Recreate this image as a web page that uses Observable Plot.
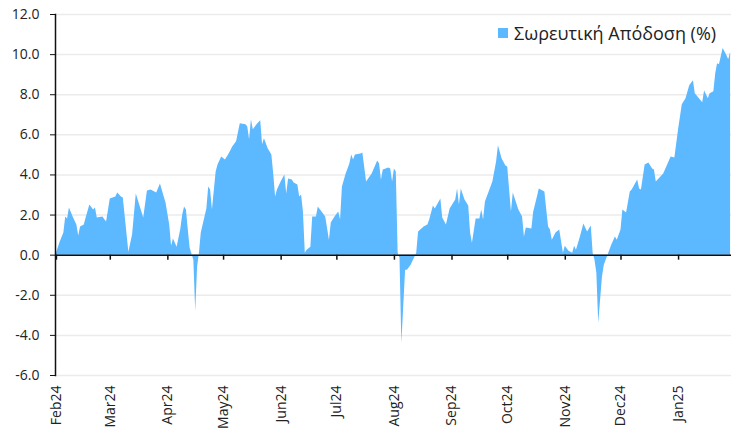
<!DOCTYPE html>
<html><head><meta charset="utf-8">
<script src="https://cdn.jsdelivr.net/npm/d3@7"></script>
<script src="https://cdn.jsdelivr.net/npm/@observablehq/plot@0.6"></script>
<style>
body{margin:0;background:#fff;font-family:"Open Sans",sans-serif;}
#wrap{position:relative;width:731px;height:434px;}
#legend{position:absolute;left:498px;top:21px;display:flex;align-items:center;gap:6px;font-size:18px;line-height:24px;color:#222;font-family:"Open Sans",sans-serif;}
#legend .sw{width:10px;height:10px;background:#5cb8ff;display:inline-block}
</style></head><body>
<div id="wrap"><div id="legend"><span class="sw"></span><span>Σωρευτική Απόδοση (%)</span></div></div>
<script>
const dates = [
"2024-02-01","2024-02-03","2024-02-05","2024-02-06","2024-02-07","2024-02-08","2024-02-10","2024-02-12","2024-02-13","2024-02-14",
"2024-02-16","2024-02-17","2024-02-19","2024-02-21","2024-02-22","2024-02-23","2024-02-26","2024-02-28","2024-03-01","2024-03-04",
"2024-03-05","2024-03-07","2024-03-08","2024-03-11","2024-03-13","2024-03-15","2024-03-19","2024-03-21","2024-03-23","2024-03-26",
"2024-03-28","2024-03-31","2024-04-02","2024-04-03","2024-04-04","2024-04-06","2024-04-08","2024-04-09","2024-04-10","2024-04-11",
"2024-04-12","2024-04-13","2024-04-14","2024-04-15","2024-04-16","2024-04-17","2024-04-18","2024-04-19","2024-04-22","2024-04-23",
"2024-04-24","2024-04-25","2024-04-27","2024-04-28","2024-04-30","2024-05-02","2024-05-04","2024-05-06","2024-05-08","2024-05-10",
"2024-05-13","2024-05-14","2024-05-15","2024-05-16","2024-05-17","2024-05-19","2024-05-21","2024-05-22","2024-05-23","2024-05-25",
"2024-05-27","2024-05-28","2024-05-29","2024-05-30","2024-06-01","2024-06-03","2024-06-04","2024-06-05","2024-06-07","2024-06-08",
"2024-06-10","2024-06-11","2024-06-12","2024-06-13","2024-06-14","2024-06-15","2024-06-17","2024-06-18","2024-06-20","2024-06-21",
"2024-06-23","2024-06-25","2024-06-27","2024-06-28","2024-06-30","2024-07-02","2024-07-03","2024-07-04","2024-07-06","2024-07-08",
"2024-07-09","2024-07-10","2024-07-11","2024-07-14","2024-07-15","2024-07-17","2024-07-20","2024-07-23","2024-07-24","2024-07-25",
"2024-07-26","2024-07-29","2024-07-30","2024-07-31","2024-08-01","2024-08-02","2024-08-03","2024-08-04","2024-08-05","2024-08-07",
"2024-08-08","2024-08-10","2024-08-12","2024-08-13","2024-08-14","2024-08-17","2024-08-19","2024-08-20","2024-08-22","2024-08-23",
"2024-08-26","2024-08-27","2024-08-29","2024-08-31","2024-09-03","2024-09-04","2024-09-05","2024-09-06","2024-09-08","2024-09-10",
"2024-09-11","2024-09-12","2024-09-14","2024-09-16","2024-09-17","2024-09-18","2024-09-19","2024-09-23","2024-09-25","2024-09-26",
"2024-09-28","2024-09-30","2024-10-01","2024-10-03","2024-10-04","2024-10-07","2024-10-09","2024-10-10","2024-10-11","2024-10-14",
"2024-10-15","2024-10-17","2024-10-18","2024-10-21","2024-10-23","2024-10-24","2024-10-25","2024-10-27","2024-10-29","2024-10-31",
"2024-11-01","2024-11-03","2024-11-05","2024-11-06","2024-11-07","2024-11-09","2024-11-11","2024-11-13","2024-11-15","2024-11-16",
"2024-11-17","2024-11-18","2024-11-19","2024-11-21","2024-11-22","2024-11-24","2024-11-26","2024-11-28","2024-11-29","2024-12-01",
"2024-12-02","2024-12-04","2024-12-06","2024-12-07","2024-12-10","2024-12-11","2024-12-12","2024-12-14","2024-12-16","2024-12-18",
"2024-12-19","2024-12-20","2024-12-24","2024-12-28","2024-12-30","2025-01-01","2025-01-03","2025-01-05","2025-01-07","2025-01-09",
"2025-01-10","2025-01-14","2025-01-15","2025-01-17","2025-01-18","2025-01-20","2025-01-21","2025-01-22","2025-01-23","2025-01-25",
"2025-01-27","2025-01-28","2025-01-29"
];
const values = [
0.1,0.65,1.1,1.9,1.8,2.35,1.9,1.5,0.95,1.4,
1.5,1.85,2.5,2.25,2.35,1.85,1.9,1.65,2.8,2.9,
3.1,2.9,2.85,0.15,1.0,3.05,1.85,3.2,3.25,3.1,
3.55,2.6,1.5,0.45,0.8,0.4,1.3,2.0,2.4,2.25,
1.25,0.35,0.05,-0.25,-2.8,-0.6,0.1,1.1,2.3,3.4,
3.25,2.25,4.15,4.5,4.9,4.75,5.05,5.4,5.65,6.55,
6.5,6.4,5.75,6.75,6.25,6.5,6.7,5.5,5.8,5.3,
5.0,4.05,2.9,3.25,3.65,4.0,3.05,3.8,3.75,3.6,
3.5,2.9,3.0,2.15,0.1,0.25,0.4,1.9,1.9,2.4,
2.15,1.9,0.75,1.6,1.9,2.15,1.75,3.4,4.05,4.55,
5.0,4.75,5.0,5.05,5.1,3.65,4.05,4.7,4.55,3.75,
4.25,4.35,4.3,3.65,4.3,4.15,0.1,-0.15,-4.4,-0.75,
-0.75,-0.5,-0.1,0.1,1.15,1.4,1.5,1.75,2.45,2.3,
2.8,1.85,1.5,2.3,2.75,3.3,2.5,3.3,2.75,2.45,
1.1,0.6,1.8,1.8,2.25,1.75,2.65,3.65,4.65,5.45,
4.8,4.45,4.4,2.15,3.1,2.25,1.9,0.9,1.35,1.3,
2.15,2.9,3.3,3.15,1.4,1.25,0.75,1.1,1.25,0.1,
0.45,0.2,0.1,0.45,0.25,0.85,1.55,1.15,1.45,0.1,
-0.25,-0.9,-3.4,-1.1,-0.5,0,0.5,0.9,0.75,1.25,
2.25,2.1,3.15,3.25,3.75,3.3,3.25,4.5,4.6,4.3,
4.25,3.65,4.05,4.9,4.85,6.25,7.5,7.8,8.45,8.7,
8.05,7.6,8.2,7.8,8.05,8.15,9.05,9.55,9.5,10.3,
9.95,9.75,10.1
];
const monthTicks = ["2024-02-01","2024-03-01","2024-04-01","2024-05-01","2024-06-01","2024-07-01","2024-08-01","2024-09-01","2024-10-01","2024-11-01","2024-12-01","2025-01-01"];
const monthLabels = ["Feb24","Mar24","Apr24","May24","Jun24","Jul24","Aug24","Sep24","Oct24","Nov24","Dec24","Jan25"];
const yTicks = [-6,-4,-2,0,2,4,6,8,10,12];

const data = dates.map((d, i) => ({date: new Date(d), value: values[i]}));
const tickDates = monthTicks.map(d => new Date(d));
const labelOf = d => monthLabels[tickDates.findIndex(t => +t === +d)];

const chart = Plot.plot({
  width: 731,
  height: 434,
  marginLeft: 55,
  marginRight: 0,
  marginTop: 14,
  marginBottom: 59,
  style: {fontFamily: '"Open Sans", sans-serif', color: "#222", background: "#fff"},
  x: {type: "utc", domain: [new Date("2024-01-31T12:00Z"), new Date("2025-01-29T12:00Z")]},
  y: {domain: [-6, 12]},
  marks: [
    Plot.gridY(yTicks, {stroke: "#ebebeb", strokeOpacity: 1, strokeWidth: 1.5}),
    Plot.areaY(data, {x: "date", y: "value", fill: "#5cb8ff"}),
    Plot.ruleY([0], {stroke: "#111", strokeWidth: 1.5}),
    Plot.ruleX(tickDates, {y1: 0, y2: -0.25, stroke: "#111", strokeWidth: 1.5}),
    Plot.frame({anchor: "left", stroke: "#111", strokeWidth: 1.5}),
    Plot.axisY(yTicks, {tickSize: 5, tickPadding: 11, fontSize: 14, tickFormat: d => d.toFixed(1), label: null, stroke: "#111"}),
    Plot.axisX(tickDates, {anchor: "bottom", tickSize: 0, tickPadding: 10, tickRotate: -90, fontSize: 14, tickFormat: labelOf, label: null})
  ]
});
document.getElementById("wrap").prepend(chart);
</script>
</body></html>
